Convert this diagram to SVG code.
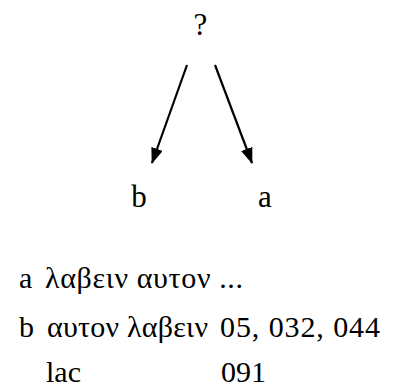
<svg xmlns="http://www.w3.org/2000/svg" width="396" height="388" viewBox="0 0 396 388">
<defs>
<style>
.n{font-family:'Liberation Serif','Times New Roman',serif;font-size:31px;fill:#000;text-anchor:middle}
.t{font-family:'Liberation Serif','Times New Roman',serif;font-size:30px;fill:#000}
.e{stroke:#000;stroke-width:2.2;fill:none;marker-end:url(#ah)}
</style>
<marker id="ah" viewBox="0 0 16 12" refX="15" refY="6" markerWidth="16" markerHeight="12" orient="auto" markerUnits="userSpaceOnUse">
<path d="M0,0 L16,6 L0,12 z" fill="#000"/>
</marker>
</defs>
<rect width="396" height="388" fill="#fff"/>
<g id="edges">
<line class="e" x1="187" y1="65" x2="152" y2="163"/>
<line class="e" x1="215" y1="65" x2="252" y2="163"/>
</g>
<g id="node-q"><text class="n" x="200.5" y="35">?</text></g>
<g id="node-b"><text class="n" x="139" y="207">b</text></g>
<g id="node-a"><text class="n" x="265" y="207">a</text></g>
<g id="legend">
<text class="t" x="19" y="288">a</text>
<text class="t" x="45" y="288" textLength="198" lengthAdjust="spacing">λαβειν αυτον ...</text>
<text class="t" x="19" y="337">b</text>
<text class="t" x="47" y="337" textLength="161" lengthAdjust="spacing">αυτον λαβειν</text>
<text class="t" x="220" y="337" textLength="160" lengthAdjust="spacing">05, 032, 044</text>
<text class="t" x="46" y="382">lac</text>
<text class="t" x="221" y="382">091</text>
</g>
</svg>
